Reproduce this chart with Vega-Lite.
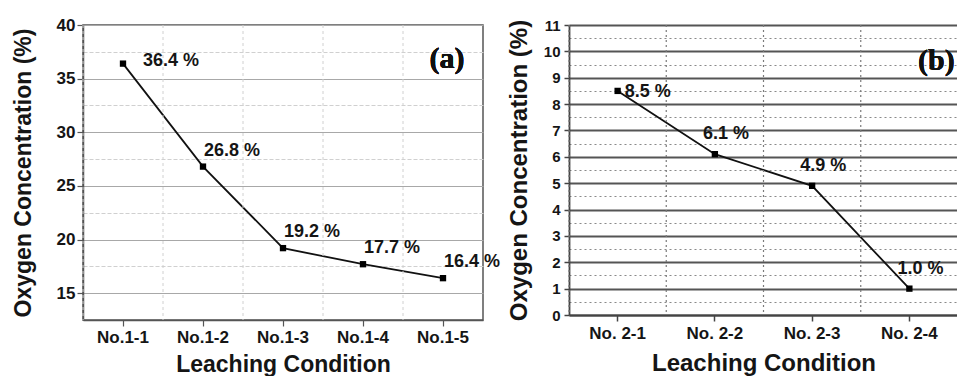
{
  "$schema": "https://vega.github.io/schema/vega-lite/v6.json",
  "padding": {"left": 11, "top": 15, "right": 0, "bottom": 0},
  "bounds": "flush",
  "spacing": 86,
  "background": "white",
  "config": {
    "font": "Liberation Sans",
    "view": {"stroke": null},
    "axis": {
      "labelFont": "Liberation Sans",
      "titleFont": "Liberation Sans",
      "labelFontWeight": "bold",
      "titleFontWeight": "bold",
      "labelColor": "#151515",
      "titleColor": "#151515"
    }
  },
  "datasets": {
    "seriesA": [
      {"condition": "No.1-1", "oxygen": 36.4},
      {"condition": "No.1-2", "oxygen": 26.8},
      {"condition": "No.1-3", "oxygen": 19.2},
      {"condition": "No.1-4", "oxygen": 17.7},
      {"condition": "No.1-5", "oxygen": 16.4}
    ],
    "seriesB": [
      {"condition": "No. 2-1", "oxygen": 8.5},
      {"condition": "No. 2-2", "oxygen": 6.1},
      {"condition": "No. 2-3", "oxygen": 4.9},
      {"condition": "No. 2-4", "oxygen": 1.0}
    ]
  },
  "hconcat": [
    {
      "width": 400,
      "height": 295,
      "data": {"name": "seriesA"},
      "view": {"stroke": "#555555", "strokeWidth": 1.5},
      "layer": [
        {
          "mark": {"type": "line", "color": "#111111", "strokeWidth": 1.8},
          "encoding": {
            "x": {
              "field": "condition", "type": "nominal", "sort": null,
              "scale": {"type": "band", "paddingInner": 0, "paddingOuter": 0},
              "axis": {
                "title": "Leaching Condition",
                "titleFontSize": 23,
                "titlePadding": 8,
                "labelFontSize": 17,
                "labelPadding": 3,
                "labelAngle": 0,
                "labelAlign": "center",
                "bandPosition": 0.5,
                "tickSize": 6,
                "tickColor": "#555555",
                "tickWidth": 1.2,
                "domainColor": "#555555",
                "domainWidth": 1.5,
                "gridColor": "#a8a8a8",
                "gridWidth": 1.2
              }
            },
            "y": {
              "field": "oxygen", "type": "quantitative",
              "scale": {"domain": [12.5, 40], "nice": false, "zero": false},
              "axis": {
                "title": "Oxygen Concentration (%)",
                "titleFontSize": 23,
                "titlePadding": 21,
                "labelFontSize": 17,
                "labelPadding": 2,
                "labelOverlap": false,
                "tickCount": 100,
                "values": [15, 17.5, 20, 22.5, 25, 27.5, 30, 32.5, 35, 37.5, 40],
                "labelExpr": "datum.value % 5 === 0 ? format(datum.value, 'd') : ''",
                "tickSize": 6,
                "tickColor": "#555555",
                "tickWidth": 1.2,
                "tickOpacity": {"condition": {"test": "datum.value % 5 !== 0", "value": 0}, "value": 1},
                "domainColor": "#555555",
                "domainWidth": 1.5,
                "gridColor": {"condition": {"test": "datum.value % 5 !== 0", "value": "#d0d0d0"}, "value": "#a8a8a8"},
                "gridDash": {"condition": {"test": "datum.value % 5 !== 0", "value": [4, 2]}, "value": []},
                "gridWidth": 1.2
              }
            }
          }
        },
        {
          "mark": {"type": "rule", "color": "#d0d0d0", "strokeDash": [3, 3], "strokeWidth": 1},
          "encoding": {
            "x": {"field": "condition", "type": "nominal", "sort": null, "bandPosition": 0}
          }
        },
        {
          "mark": {"type": "point", "shape": "square", "filled": true, "size": 40, "color": "#000000", "opacity": 1},
          "encoding": {
            "x": {"field": "condition", "type": "nominal", "sort": null},
            "y": {"field": "oxygen", "type": "quantitative"}
          }
        },
        {
          "transform": [
            {"filter": "datum.condition === 'No.1-1'"},
            {"calculate": "format(datum.oxygen, '.1f') + ' %'", "as": "label"}
          ],
          "mark": {"type": "text", "align": "left", "baseline": "middle", "dx": 20, "dy": -3, "fontSize": 18, "fontWeight": "bold", "color": "#151515"},
          "encoding": {
            "x": {"field": "condition", "type": "nominal", "sort": null},
            "y": {"field": "oxygen", "type": "quantitative"},
            "text": {"field": "label"}
          }
        },
        {
          "transform": [
            {"filter": "datum.condition !== 'No.1-1'"},
            {"calculate": "format(datum.oxygen, '.1f') + ' %'", "as": "label"}
          ],
          "mark": {"type": "text", "align": "left", "baseline": "middle", "dx": 1, "dy": -16, "fontSize": 18, "fontWeight": "bold", "color": "#151515"},
          "encoding": {
            "x": {"field": "condition", "type": "nominal", "sort": null},
            "y": {"field": "oxygen", "type": "quantitative"},
            "text": {"field": "label"}
          }
        },
        {
          "mark": {"type": "text", "text": "(a)", "font": "Liberation Serif", "fontSize": 30, "fontWeight": "bold", "align": "center", "baseline": "middle", "color": "#111111", "dx": 4},
          "encoding": {
            "x": {"datum": "No.1-5", "type": "nominal"},
            "y": {"datum": 36.8, "type": "quantitative"}
          }
        }
      ]
    },
    {
      "width": 389,
      "height": 290,
      "data": {"name": "seriesB"},
      "layer": [
        {
          "mark": {"type": "line", "color": "#111111", "strokeWidth": 1.8},
          "encoding": {
            "x": {
              "field": "condition", "type": "nominal", "sort": null,
              "scale": {"type": "band", "paddingInner": 0, "paddingOuter": 0},
              "axis": {
                "title": "Leaching Condition",
                "titleFontSize": 24,
                "titlePadding": 10,
                "labelFontSize": 17,
                "labelPadding": 4,
                "labelAngle": 0,
                "labelAlign": "center",
                "bandPosition": 0.5,
                "tickSize": 6,
                "tickColor": "#444444",
                "tickWidth": 1.5,
                "domainColor": "#444444",
                "domainWidth": 1.8,
                "gridColor": "#555555",
                "gridWidth": 1.8
              }
            },
            "y": {
              "field": "oxygen", "type": "quantitative",
              "scale": {"domain": [0, 11], "nice": false, "zero": false},
              "axis": {
                "title": "Oxygen Concentration (%)",
                "titleFontSize": 24,
                "titlePadding": 12,
                "labelFontSize": 15,
                "labelPadding": 4,
                "labelOverlap": false,
                "tickCount": 100,
                "values": [0, 0.5, 1, 1.5, 2, 2.5, 3, 3.5, 4, 4.5, 5, 5.5, 6, 6.5, 7, 7.5, 8, 8.5, 9, 9.5, 10, 10.5, 11],
                "labelExpr": "datum.value % 1 === 0 ? format(datum.value, 'd') : ''",
                "tickSize": 5,
                "tickColor": "#444444",
                "tickWidth": 1.5,
                "tickOpacity": {"condition": {"test": "datum.value % 1 !== 0", "value": 0}, "value": 1},
                "domainColor": "#444444",
                "domainWidth": 1.8,
                "gridColor": {"condition": {"test": "datum.value % 1 !== 0", "value": "#8a8a8a"}, "value": "#555555"},
                "gridDash": {"condition": {"test": "datum.value % 1 !== 0", "value": [2, 3]}, "value": []},
                "gridWidth": {"condition": {"test": "datum.value % 1 !== 0", "value": 1.2}, "value": 1.8}
              }
            }
          }
        },
        {
          "mark": {"type": "rule", "color": "#7a7a7a", "strokeDash": [2, 3], "strokeWidth": 1.2},
          "encoding": {
            "x": {"field": "condition", "type": "nominal", "sort": null, "bandPosition": 0}
          }
        },
        {
          "mark": {"type": "point", "shape": "square", "filled": true, "size": 40, "color": "#000000", "opacity": 1},
          "encoding": {
            "x": {"field": "condition", "type": "nominal", "sort": null},
            "y": {"field": "oxygen", "type": "quantitative"}
          }
        },
        {
          "transform": [
            {"filter": "datum.condition === 'No. 2-1'"},
            {"calculate": "format(datum.oxygen, '.1f') + ' %'", "as": "label"}
          ],
          "mark": {"type": "text", "align": "left", "baseline": "middle", "dx": 7, "dy": 1, "fontSize": 18, "fontWeight": "bold", "color": "#151515"},
          "encoding": {
            "x": {"field": "condition", "type": "nominal", "sort": null},
            "y": {"field": "oxygen", "type": "quantitative"},
            "text": {"field": "label"}
          }
        },
        {
          "transform": [
            {"filter": "datum.condition !== 'No. 2-1'"},
            {"calculate": "format(datum.oxygen, '.1f') + ' %'", "as": "label"}
          ],
          "mark": {"type": "text", "align": "left", "baseline": "middle", "dx": -12, "dy": -20, "fontSize": 18, "fontWeight": "bold", "color": "#151515"},
          "encoding": {
            "x": {"field": "condition", "type": "nominal", "sort": null},
            "y": {"field": "oxygen", "type": "quantitative"},
            "text": {"field": "label"}
          }
        },
        {
          "mark": {"type": "text", "text": "(b)", "font": "Liberation Serif", "fontSize": 30, "fontWeight": "bold", "align": "center", "baseline": "middle", "color": "#111111", "dx": 27},
          "encoding": {
            "x": {"datum": "No. 2-4", "type": "nominal"},
            "y": {"datum": 9.64, "type": "quantitative"}
          }
        }
      ]
    }
  ]
}
